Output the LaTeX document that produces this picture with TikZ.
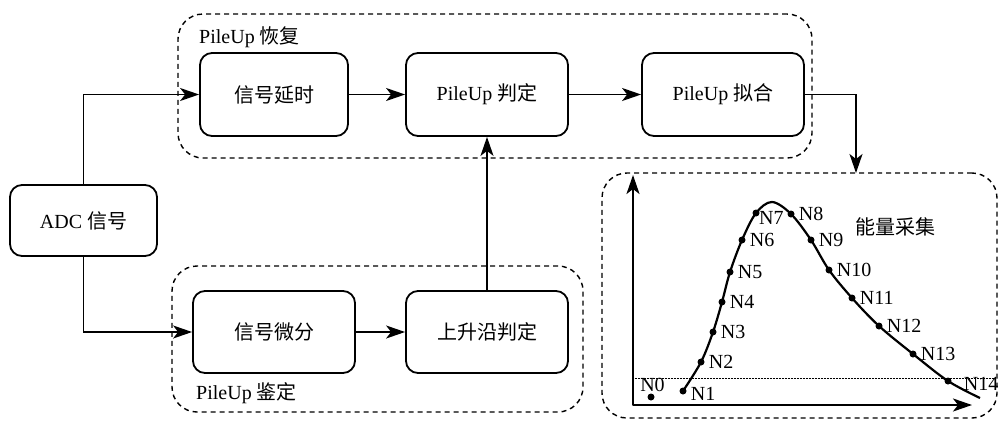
\documentclass[tikz,border=0pt]{standalone}
\usepackage{fontspec}
\setmainfont{Liberation Serif}
\newfontfamily\zhfont{Noto Sans CJK SC}
\newcommand{\zh}[1]{{\zhfont #1}}
\usetikzlibrary{arrows.meta}
\begin{document}
\begin{tikzpicture}[x=1pt,y=-1pt,
  every node/.style={font=\fontsize{20}{24}\selectfont},
  blk/.style={draw, line width=1.8pt, rounded corners=12pt, inner sep=0pt, align=center},
  grp/.style={draw, line width=1.4pt, dash pattern=on 5pt off 4pt, rounded corners=25pt, inner sep=0pt},
  arr/.style={line width=1.7pt, -{Stealth[length=19pt,width=13pt,inset=5pt]}},
  axarr/.style={line width=2.2pt, line join=round, {Stealth[length=19pt,width=13pt,inset=5pt]}-{Stealth[length=19pt,width=13pt,inset=5pt]}},
  dot/.style={circle, fill, inner sep=0pt, minimum size=7pt},
  nl/.style={anchor=west, inner sep=0pt, xshift=4pt}]
\useasboundingbox (0,0) rectangle (998,421);

% groups
\node[grp, minimum width=634pt, minimum height=144pt] (topg) at (495,86) {};
\node[anchor=west, inner sep=0pt] (toplbl) at (199,37) {PileUp \zh{恢复}};
\node[grp, minimum width=411pt, minimum height=146pt] (botg) at (377.5,339) {};
\node[anchor=west, inner sep=0pt] (botlbl) at (196,393) {PileUp \zh{鉴定}};
\node[grp, minimum width=395pt, minimum height=245pt] (gbox) at (799.5,295.5) {};

% blocks
\node[blk, minimum width=148pt, minimum height=83pt] (delay) at (274,94.5) {\zh{信号延时}};
\node[blk, minimum width=162pt, minimum height=83pt] (judge) at (487,94.5) {PileUp \zh{判定}};
\node[blk, minimum width=162pt, minimum height=83pt] (fit) at (723,94.5) {PileUp \zh{拟合}};
\node[blk, minimum width=147pt, minimum height=71pt] (adc) at (83.5,220.5) {ADC \zh{信号}};
\node[blk, minimum width=162pt, minimum height=82pt] (diff) at (274,332) {\zh{信号微分}};
\node[blk, minimum width=162pt, minimum height=82pt] (rise) at (487,332) {\zh{上升沿判定}};

% connectors
\draw[arr] (adc.north) |- (delay.west);
\draw[arr] (adc.south) |- (diff.west);
\draw[arr] (delay) -- (judge);
\draw[arr] (judge) -- (fit);
\draw[arr] (diff) -- (rise);
\draw[arr] (rise.north) -- (judge.south);
\coordinate (gin) at (856,173);
\draw[arr] (fit.east) -| (gin);

% graph
\coordinate (O) at (633,405);
\coordinate (ytip) at (633,175);
\coordinate (xtip) at (972,405);
\draw[axarr] (ytip) -- (O) -- (xtip);
\coordinate (dl) at (633,378);
\coordinate (dr) at (995,378);
\draw[line width=0.5pt, densely dotted] (dl) -- (dr);

\coordinate (p0) at (651,397);
\coordinate (p1) at (683,391);
\coordinate (p2) at (701,362);
\coordinate (p3) at (713,332);
\coordinate (p4) at (722,302);
\coordinate (p5) at (730,272);
\coordinate (p6) at (742,240);
\coordinate (p7) at (756,213);
\coordinate (pk) at (772,202);
\coordinate (p8) at (791,214);
\coordinate (p9) at (811,240);
\coordinate (p10) at (829,270);
\coordinate (p11) at (852,298);
\coordinate (p12) at (879,326);
\coordinate (p13) at (913,354);
\coordinate (p14) at (948,381);
\coordinate (pe) at (980,398);
\draw[line width=2.2pt] plot[smooth, tension=0.55] coordinates {(p1) (p2) (p3) (p4) (p5) (p6) (p7) (pk) (p8) (p9) (p10) (p11) (p12) (p13) (p14) (pe)};

\foreach \i in {0,...,14} {\node[dot] (d\i) at (p\i) {};}
\node[anchor=center, inner sep=0pt] (l0) at (652.5,385) {N0};
\node[nl, yshift=-3pt] (l1) at (d1.east) {N1};
\foreach \i in {2,3,4,5,6,8,9,10,11,12,13} {\node[nl] (l\i) at (d\i.east) {N\i};}
\node[anchor=north west, inner sep=0pt] (l7) at (759,211) {N7};
\node[nl, xshift=8pt, yshift=-3pt] (l14) at (d14.east) {N14};
\node[inner sep=0pt] (title) at (895,227) {\zh{能量采集}};
\end{tikzpicture}
\end{document}
